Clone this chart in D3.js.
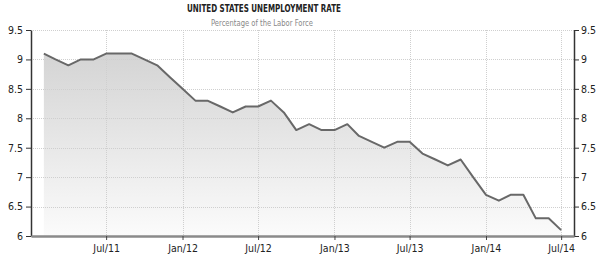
<!DOCTYPE html>
<meta charset="utf-8">
<title>United States Unemployment Rate</title>
<script src="https://d3js.org/d3.v7.min.js"></script>
<style>
  body { margin: 0; background: #fff; }
  text { font-family: "DejaVu Sans Condensed", "DejaVu Sans", sans-serif; }
</style>
<body>
<svg id="chart" width="600" height="262"></svg>
<script>

// monthly readings, Feb 2011 .. Jul 2014
var months = [
  "2011-02","2011-03","2011-04","2011-05","2011-06","2011-07","2011-08","2011-09","2011-10","2011-11","2011-12",
  "2012-01","2012-02","2012-03","2012-04","2012-05","2012-06","2012-07","2012-08","2012-09","2012-10","2012-11","2012-12",
  "2013-01","2013-02","2013-03","2013-04","2013-05","2013-06","2013-07","2013-08","2013-09","2013-10","2013-11","2013-12",
  "2014-01","2014-02","2014-03","2014-04","2014-05","2014-06","2014-07"
];
var rate = [
  9.1, 9.0, 8.9, 9.0, 9.0, 9.1, 9.1, 9.1, 9.0, 8.9, 8.7,
  8.5, 8.3, 8.3, 8.2, 8.1, 8.2, 8.2, 8.3, 8.1, 7.8, 7.9, 7.8,
  7.8, 7.9, 7.7, 7.6, 7.5, 7.6, 7.6, 7.4, 7.3, 7.2, 7.3, 7.0,
  6.7, 6.6, 6.7, 6.7, 6.3, 6.3, 6.1
];
var xTickMonths = ["2011-07","2012-01","2012-07","2013-01","2013-07","2014-01","2014-07"];
var yTicks = [6, 6.5, 7, 7.5, 8, 8.5, 9, 9.5];

var parseMonth = d3.timeParse("%Y-%m");
var data = months.map(function(m, i) { return {date: parseMonth(m), value: rate[i]}; });

// plot box (note: "top" is taken by window.top)
var plotL = 31, plotR = 574, plotT = 30, plotB = 236;
var svg = d3.select("#chart");

var x = d3.scaleTime()
    .domain([parseMonth("2011-01"), parseMonth("2014-08")])
    .range([plotL, plotR]);
var y = d3.scaleLinear().domain([6, 9.5]).range([plotB, plotT]);

// gradient for the area
var grad = svg.append("defs").append("linearGradient")
    .attr("id", "fade")
    .attr("gradientUnits", "userSpaceOnUse")
    .attr("x1", 0).attr("y1", plotT).attr("x2", 0).attr("y2", plotB);
grad.append("stop").attr("offset", "0%").attr("stop-color", "#cfcfcf");
grad.append("stop").attr("offset", "100%").attr("stop-color", "#fbfbfb");

// area + line
var area = d3.area()
    .x(function(d) { return x(d.date); })
    .y0(plotB)
    .y1(function(d) { return y(d.value); });
var line = d3.line()
    .x(function(d) { return x(d.date); })
    .y(function(d) { return y(d.value); });

svg.append("path").datum(data).attr("d", area).attr("fill", "url(#fade)");

// grid (drawn over the fill, like the original)
var grid = svg.append("g").attr("stroke", "#cfcfcf").attr("stroke-dasharray", "1,1").attr("shape-rendering", "crispEdges");
grid.selectAll(".h").data(yTicks.slice(1)).enter().append("line")
    .attr("x1", plotL).attr("x2", plotR)
    .attr("y1", function(d) { return Math.round(y(d)) + 0.5; })
    .attr("y2", function(d) { return Math.round(y(d)) + 0.5; });
grid.selectAll(".v").data(xTickMonths).enter().append("line")
    .attr("y1", plotT).attr("y2", plotB)
    .attr("x1", function(d) { return Math.round(x(parseMonth(d))) + 0.5; })
    .attr("x2", function(d) { return Math.round(x(parseMonth(d))) + 0.5; });

svg.append("path").datum(data).attr("d", line)
    .attr("fill", "none").attr("stroke", "#686868").attr("stroke-width", 2)
    .attr("stroke-linejoin", "round");

// axes
var fmt = d3.format("");
var yLeft = svg.append("g").attr("transform", "translate(" + plotL + ",0)")
    .call(d3.axisLeft(y).tickValues(yTicks).tickFormat(fmt).tickSize(5).tickSizeOuter(0).tickPadding(3));
var yRight = svg.append("g").attr("transform", "translate(" + plotR + ",0)")
    .call(d3.axisRight(y).tickValues(yTicks).tickFormat(fmt).tickSize(5).tickSizeOuter(0).tickPadding(2));
[yLeft, yRight].forEach(function(g) {
  g.select(".domain").attr("stroke", "#333").attr("stroke-width", 1.5);
  g.selectAll(".tick line").attr("stroke", "#333");
  g.selectAll("text").attr("fill", "#222").style("font-size", "10.5px");
});

var xAxis = svg.append("g").attr("transform", "translate(0," + plotB + ")")
    .call(d3.axisBottom(x)
      .tickValues(xTickMonths.map(parseMonth))
      .tickFormat(d3.timeFormat("%b/%y"))
      .tickSize(4).tickSizeOuter(0).tickPadding(5));
xAxis.select(".domain").attr("stroke", "#8a8a8a").attr("stroke-width", 2.5);
xAxis.selectAll(".tick line").attr("stroke", "#444");
xAxis.selectAll("text").attr("fill", "#222").style("font-size", "10.5px");

// titles
svg.append("text")
    .attr("x", 264).attr("y", 12)
    .attr("text-anchor", "middle")
    .attr("font-weight", "bold").attr("font-size", 10.5).attr("fill", "#222")
    .attr("textLength", 154).attr("lengthAdjust", "spacingAndGlyphs")
    .text("UNITED STATES UNEMPLOYMENT RATE");
svg.append("text")
    .attr("x", 262).attr("y", 26)
    .attr("text-anchor", "middle")
    .attr("font-size", 9).attr("fill", "#888")
    .attr("textLength", 102).attr("lengthAdjust", "spacingAndGlyphs")
    .text("Percentage of the Labor Force");

</script>
</body>
